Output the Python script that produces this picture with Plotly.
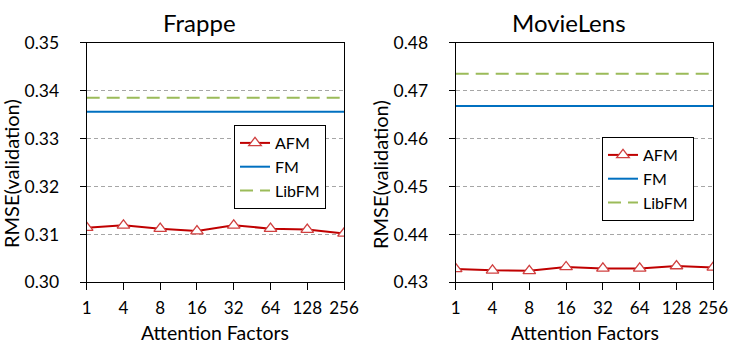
import plotly.graph_objects as go

factors = ["1", "4", "8", "16", "32", "64", "128", "256"]
frappe_afm = [0.3114, 0.3119, 0.3112, 0.3107, 0.3119, 0.3112, 0.3110, 0.3102]
frappe_fm = 0.3356
frappe_libfm = 0.3385
movie_afm = [0.4328, 0.4325, 0.4324, 0.4332, 0.4329, 0.4329, 0.4334, 0.4331]
movie_fm = 0.4668
movie_libfm = 0.4735

FONT = "Lato"
RED = "#C00000"
BLUE = "#0070C0"
GREEN = "#9BBB59"

fig = go.Figure()

def add_panel(afm, fm, libfm, xa, ya, legend):
    fig.add_trace(go.Scatter(x=factors, y=afm, name="AFM", mode="lines+markers",
                             line=dict(color=RED, width=2),
                             marker=dict(symbol="triangle-up", size=11, color="white",
                                         line=dict(color="#D04040", width=1.3)),
                             xaxis=xa, yaxis=ya, legend=legend))
    fig.add_trace(go.Scatter(x=factors, y=[fm] * len(factors), name="FM", mode="lines",
                             line=dict(color=BLUE, width=2),
                             xaxis=xa, yaxis=ya, legend=legend))
    fig.add_trace(go.Scatter(x=factors, y=[libfm] * len(factors), name="LibFM", mode="lines",
                             line=dict(color=GREEN, width=2, dash="13px,7px"),
                             xaxis=xa, yaxis=ya, legend=legend))

add_panel(frappe_afm, frappe_fm, frappe_libfm, "x", "y", "legend")
add_panel(movie_afm, movie_fm, movie_libfm, "x2", "y2", "legend2")

ydom = [1 - 282.3 / 349, 1 - 42.7 / 349]
tickfont_x = dict(family=FONT, size=17, color="black")
tickfont_y = dict(family=FONT, size=17.5, color="black")

common_x = dict(type="category", range=[0, 7], showline=True, linecolor="black", linewidth=1,
                mirror=True, ticks="outside", ticklen=7, tickcolor="black",
                tickfont=tickfont_x, showgrid=False, zeroline=False, automargin=False,
                ticklabelstandoff=3)
common_y = dict(showline=True, linecolor="black", linewidth=1, mirror=True,
                ticks="outside", ticklen=6, tickcolor="black", tickfont=tickfont_y,
                showgrid=True, gridcolor="#A6A6A6", gridwidth=1, griddash="4px,3px",
                zeroline=False, automargin=False, dtick=0.01, tickformat=".2f",
                ticklabelstandoff=17)

legend_common = dict(bgcolor="white", bordercolor="black", borderwidth=1,
                     font=dict(family=FONT, size=16, color="black"),
                     xanchor="left", yanchor="middle", itemwidth=30, tracegroupgap=0)

fig.update_layout(
    width=741, height=349,
    margin=dict(l=0, r=0, t=0, b=0),
    paper_bgcolor="white", plot_bgcolor="white",
    xaxis=dict(domain=[86.7 / 741, 344 / 741], anchor="y", **common_x),
    yaxis=dict(domain=ydom, anchor="x", range=[0.30, 0.35], **common_y),
    xaxis2=dict(domain=[455.7 / 741, 713.3 / 741], anchor="y2", **common_x),
    yaxis2=dict(domain=ydom, anchor="x2", range=[0.43, 0.48], **common_y),
    legend=dict(x=234 / 741, y=1 - 167 / 349, **legend_common),
    legend2=dict(x=602 / 741, y=1 - 179 / 349, **legend_common),
    showlegend=True,
)

def ann(text, x, y, size, angle=0):
    fig.add_annotation(text=text, x=x, y=y, xref="paper", yref="paper",
                       xanchor="center", yanchor="middle", showarrow=False,
                       textangle=angle, font=dict(family=FONT, size=size, color="black"))

ann("Frappe", 199 / 741, 1 - 23 / 349, 24)
ann("MovieLens", 569 / 741, 1 - 23 / 349, 24)
ann("Attention Factors", 215 / 741, 1 - 332 / 349, 19.5)
ann("Attention Factors", 585 / 741, 1 - 332 / 349, 19.5)
ann("RMSE(validation)", 11 / 741, 1 - 174 / 349, 20, -90)
ann("RMSE(validation)", 380 / 741, 1 - 174 / 349, 20, -90)

fig.write_html("out.html")
